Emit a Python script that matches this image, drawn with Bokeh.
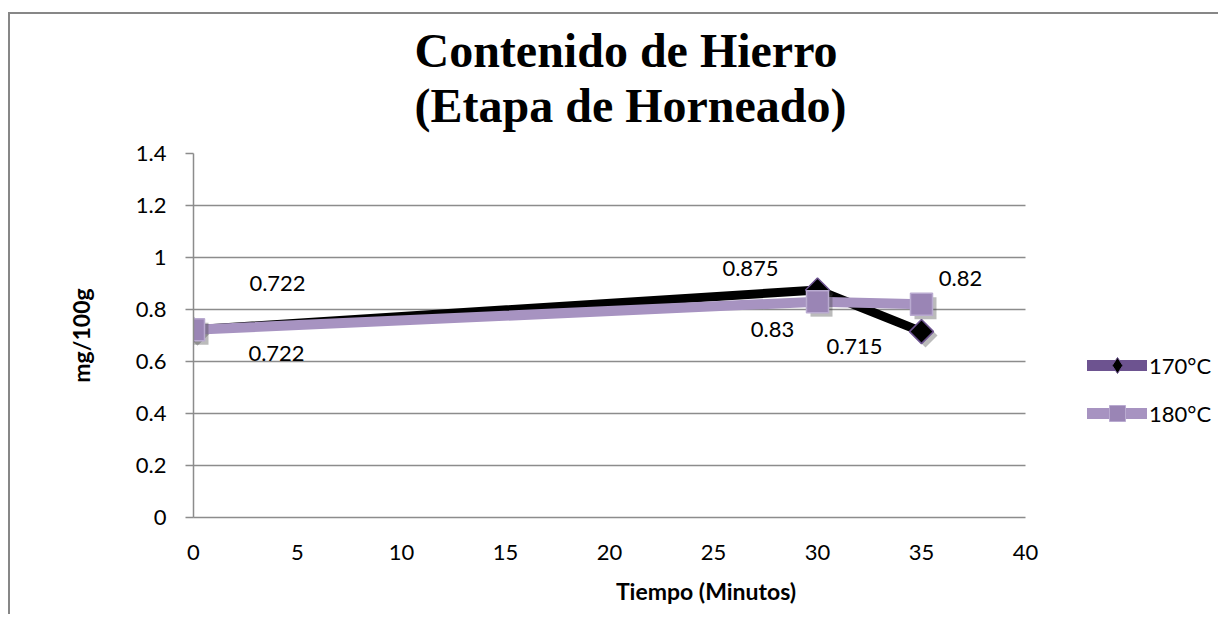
import numpy as np
from bokeh.plotting import figure
from bokeh.models import (ColumnDataSource, LabelSet, Legend, LegendItem,
                          FixedTicker, Title, Grid)
from bokeh.core.properties import value
from bokeh.transform import dodge
from bokeh.embed import file_html
from bokeh.resources import INLINE

# ---- data ----
tiempo = [0, 30, 35]
hierro_170 = [0.722, 0.875, 0.715]
hierro_180 = [0.722, 0.83, 0.82]
etiquetas_170 = ["0.722", "0.875", "0.715"]
etiquetas_180 = ["0.722", "0.83", "0.82"]
series_names = ["170°C", "180°C"]
titulo = ["Contenido de Hierro", "(Etapa de Horneado)"]
y_ticks = [0, 0.2, 0.4, 0.6, 0.8, 1.0, 1.2, 1.4]
y_tick_labels = ["0", "0.2", "0.4", "0.6", "0.8", "1", "1.2", "1.4"]
x_ticks = [0, 5, 10, 15, 20, 25, 30, 35, 40]
x_tick_labels = ["0", "5", "10", "15", "20", "25", "30", "35", "40"]
x_min, x_max = 0, 40
y_min, y_max = 0, 1.4

# label placement (screen px offsets), style only
off_170_x = [84, -67, -67]
off_170_y = [46, 22, -15]
off_180_x = [83, -45, 39]
off_180_y = [-24, -28, 26]

FONT = "Lato"
GRID = "#8c8c8c"
BORDER = "#878787"

W, H = 1210, 614
LEFT = 185
TOP = 150
AXIS_PX = 832
FRAME_H = 367
frame_px = W - LEFT
x_end = x_min + (x_max - x_min) * frame_px / AXIS_PX
SH_PX = 4
sh_dx = SH_PX * (x_max - x_min) / AXIS_PX
sh_dy = -SH_PX * (y_max - y_min) / FRAME_H

p = figure(width=W, height=H, x_range=(x_min, x_end), y_range=(y_min, y_max),
           output_backend="svg", toolbar_location=None,
           min_border_left=LEFT, min_border_right=0,
           min_border_top=TOP, min_border_bottom=H - TOP - FRAME_H)
# chart-area border (top and left edges) painted behind a transparent canvas
p.styles = {
    "margin-left": "8px",
    "background": (f"linear-gradient({BORDER},{BORDER}) 0 12px / 100% 2px no-repeat, "
                   f"linear-gradient({BORDER},{BORDER}) 0 12px / 2px 100% no-repeat"),
}
p.outline_line_color = None
p.background_fill_color = "white"
p.border_fill_alpha = 0

# title (two lines)
t = Title(text="\n".join(titulo), align="left", offset=221,
          text_font="Liberation Serif", text_font_size="48px",
          text_font_style="bold", text_color="black", standoff=42,
          text_line_height=1.05)
p.add_layout(t, "above")

# axes
p.xgrid.grid_line_color = None
yg = p.ygrid[0]
if "cross_bounds" in Grid.properties():
    yg.grid_line_color = GRID
    yg.grid_line_width = 1.5
    yg.cross_bounds = (x_min, x_max)
    grid_ok = True
else:
    yg.grid_line_color = None
    grid_ok = False
p.yaxis.ticker = FixedTicker(ticks=y_ticks)
p.xaxis.ticker = FixedTicker(ticks=x_ticks)
p.xaxis.bounds = (x_min, x_max)
p.yaxis.major_label_overrides = {t_: l for t_, l in zip(y_ticks, y_tick_labels)}
p.xaxis.major_label_overrides = {t_: l for t_, l in zip(x_ticks, x_tick_labels)}
for ax in (p.xaxis[0], p.yaxis[0]):
    ax.axis_line_color = GRID
    ax.axis_line_width = 1.5
    ax.major_tick_line_color = GRID
    ax.major_tick_line_width = 1.5
    ax.minor_tick_line_color = None
    ax.major_label_text_font = FONT
    ax.major_label_text_font_size = "22px"
    ax.major_label_text_color = "black"
    ax.axis_label_text_font = FONT
    ax.axis_label_text_font_style = "bold"
    ax.axis_label_text_font_size = "23px"
    ax.axis_label_text_color = "black"
p.xaxis.major_tick_out = 0
p.xaxis.major_tick_in = 0
p.xaxis.major_label_standoff = 27
p.xaxis.axis_label = "Tiempo (Minutos)"
p.xaxis.axis_label_standoff = 14
p.yaxis.major_tick_out = 8
p.yaxis.major_tick_in = 0
p.yaxis.major_label_standoff = 19
p.yaxis.axis_label = "mg/100g"
p.yaxis.axis_label_standoff = 38

if not grid_ok:
    gsrc = ColumnDataSource(dict(y=y_ticks, x0=[x_min] * len(y_ticks),
                                 x1=[x_max] * len(y_ticks)))
    p.segment(x0="x0", y0="y", x1="x1", y1="y", source=gsrc,
              line_color=GRID, line_width=1.5, level="underlay")

src170 = ColumnDataSource(dict(x=tiempo, y=hierro_170, t=etiquetas_170,
                               dx=off_170_x, dy=off_170_y))
src180 = ColumnDataSource(dict(x=tiempo, y=hierro_180, t=etiquetas_180,
                               dx=off_180_x, dy=off_180_y))

P170 = "#6d5390"
P180 = "#a793c1"
DIAMOND = np.pi / 4
SHADOW = "#3c3c3c"

p.line("x", "y", source=src170, line_color="black", line_width=9,
       line_join="round")
p.scatter(dodge("x", sh_dx), dodge("y", sh_dy), source=src170,
          marker="square", angle=DIAMOND, size=17, fill_color=SHADOW,
          fill_alpha=0.35, line_color=None)
p.scatter("x", "y", source=src170, marker="square", angle=DIAMOND, size=17,
          fill_color="black", line_color=P170, line_width=1.5)
p.line("x", "y", source=src180, line_color=P180, line_width=10,
       line_join="round")
p.scatter(dodge("x", sh_dx), dodge("y", sh_dy), source=src180,
          marker="square", size=22, fill_color=SHADOW, fill_alpha=0.35,
          line_color=None)
p.scatter("x", "y", source=src180, marker="square", size=22,
          fill_color="#9a85b5", line_color="#b9aad0", line_width=1.5)

for s in (src170, src180):
    p.add_layout(LabelSet(x="x", y="y", text="t", source=s,
                          x_offset="dx", y_offset="dy",
                          text_align="center", text_baseline="middle",
                          text_font=value(FONT), text_font_size="22px",
                          text_color="black"))

# legend-only renderers (NaN data: nothing drawn in the plot area)
e1 = ColumnDataSource(dict(x=np.array([np.nan]), y=np.array([np.nan])))
e2 = ColumnDataSource(dict(x=np.array([np.nan]), y=np.array([np.nan])))
l1 = p.line("x", "y", source=e1, line_color=P170, line_width=11,
            line_cap="round")
m1 = p.scatter("x", "y", source=e1, marker="diamond", size=17,
               fill_color="black", line_color=P170, line_width=1)
l2 = p.line("x", "y", source=e2, line_color=P180, line_width=11,
            line_cap="round")
m2 = p.scatter("x", "y", source=e2, marker="square", size=17,
               fill_color="#9a85b5", line_color="#b9aad0", line_width=1)

legend = Legend(items=[LegendItem(label=series_names[0], renderers=[l1, m1]),
                       LegendItem(label=series_names[1], renderers=[l2, m2])],
                location=(894, 84), orientation="vertical",
                glyph_width=60, glyph_height=40, label_height=40,
                label_standoff=2, spacing=8, padding=0, margin=0,
                border_line_color=None, background_fill_alpha=0,
                label_text_font=FONT, label_text_font_size="22px",
                label_text_color="black", label_text_baseline="middle")
p.add_layout(legend, "center")

open("out.html", "w").write(file_html(p, INLINE))
